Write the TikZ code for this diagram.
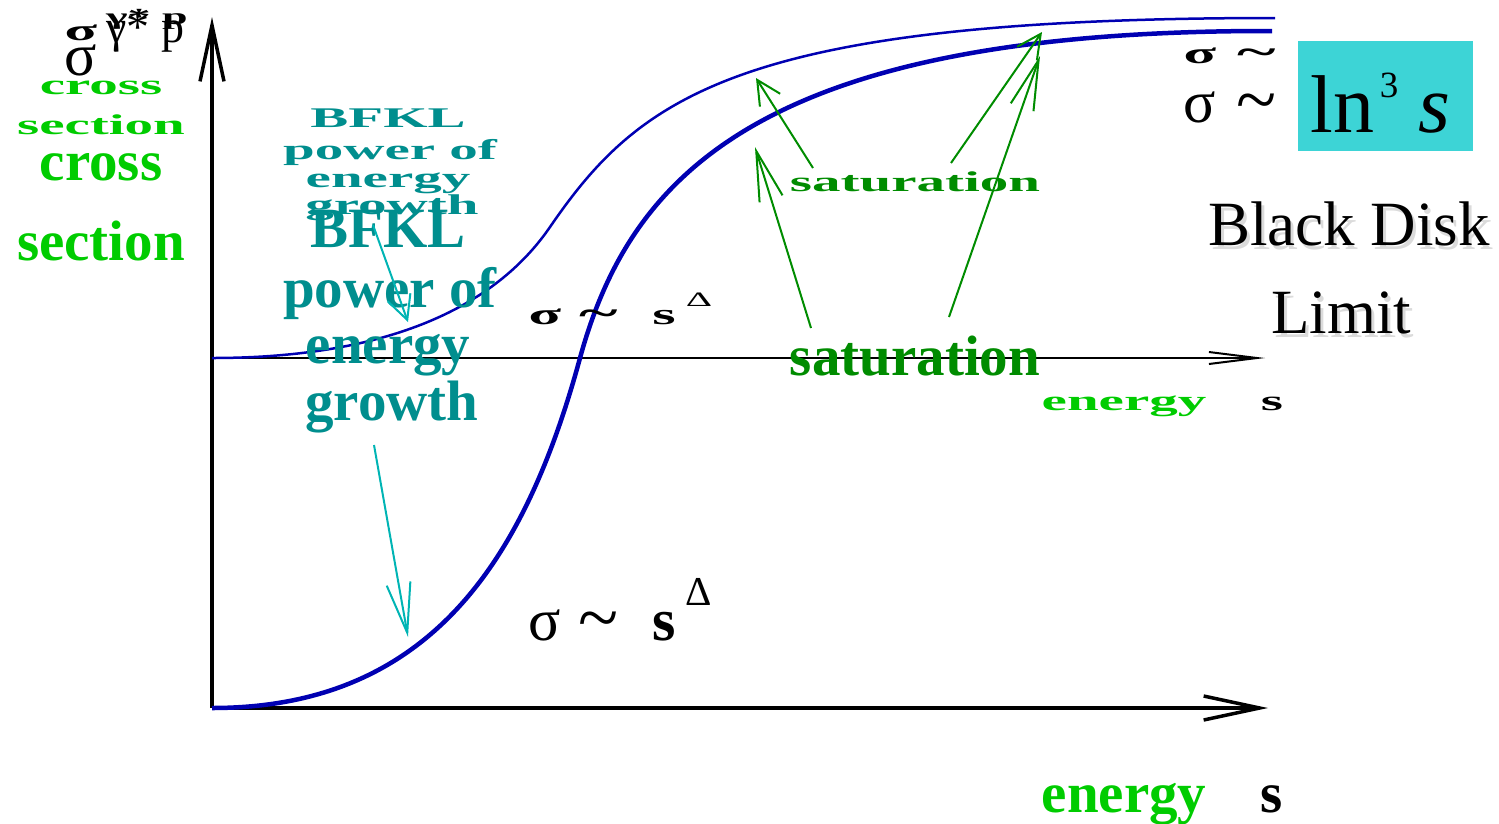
\documentclass[tikz,border=0pt]{standalone}
\usepackage{fontspec}
\setmainfont{Liberation Serif}
\usetikzlibrary{arrows.meta}
\definecolor{curveblue}{RGB}{0,0,178}
\definecolor{tealtext}{RGB}{0,142,142}
\definecolor{tealarrow}{RGB}{0,180,180}
\definecolor{brightgreen}{RGB}{0,204,0}
\definecolor{darkgreen}{RGB}{0,140,0}
\definecolor{cyanbox}{RGB}{61,212,214}
\begin{document}
\begin{tikzpicture}[x=1pt,y=-1pt,
  lbl/.style={anchor=base,inner sep=0pt},
  lblw/.style={anchor=base west,inner sep=0pt},
  bigbold/.style={font=\fontsize{57}{57}\selectfont\bfseries},
  bigreg/.style={font=\fontsize{60}{60}\selectfont},
  bigboldsig/.style={font=\fontsize{60}{60}\selectfont\bfseries},
  tildereg/.style={font=\fontsize{74}{74}\selectfont},
  tildebold/.style={font=\fontsize{74}{74}\selectfont\bfseries},
  suptxt/.style={font=\fontsize{41}{41}\selectfont},
  diskfont/.style={font=\fontsize{63}{63}\selectfont},
  axisbig/.style={line width=3.5pt,-{Straight Barb[length=56pt,width=24pt]}},
  axissmall/.style={line width=2pt,-{Straight Barb[length=48pt,width=12pt]}},
  barbbig/.style={line width=2pt,-{Straight Barb[length=50pt,width=24pt]}},
  barbsmall/.style={line width=2pt,-{Straight Barb[length=24pt,width=24pt]}},
  greenarrow/.style={darkgreen},
  tealarr/.style={tealarrow},
  lnbox/.style={fill=cyanbox,minimum width=175pt,minimum height=110pt,inner sep=0pt}
]
\useasboundingbox (0,0) rectangle (1499,823);

% axes
\coordinate (origin) at (212,708);
\coordinate (ytop) at (212,17);
\coordinate (xend) at (1268,708);
\coordinate (sorigin) at (212,358);
\coordinate (sxend) at (1265,358);
\draw[axisbig] (origin) -- (ytop);
\draw[axisbig] (origin) -- (xend);
\draw[axissmall] (sorigin) -- (sxend);

% curves
\draw[curveblue,line width=2.5pt] (212,358) .. controls (400,358) and (500,300) .. (550,227)
   .. controls (640,96) and (740,18) .. (1275,18);
\draw[curveblue,line width=4.5pt] (212,708) .. controls (430,708) and (525,560) .. (580,358)
   .. controls (630,176) and (760,30) .. (1272,31);

% ---------- large labels ----------
\node[lbl,bigreg] (sigtl) at (81,75) {σ};
\node[lblw,font=\fontsize{46}{46}\selectfont] (gptl) at (106,42) {γ* p};
\node[lbl,bigbold,text=brightgreen] (cross) at (101,180) {cross};
\node[lbl,bigbold,text=brightgreen] (section) at (101,260) {section};
\node[lbl,bigbold,text=tealtext] (bfkl1) at (388,247) {BFKL};
\node[lbl,bigbold,text=tealtext] (bfkl2) at (390,307) {power of};
\node[lbl,bigbold,text=tealtext] (bfkl3) at (388,363) {energy};
\node[lbl,bigbold,text=tealtext] (bfkl4) at (392,420) {growth};
\node[lbl,bigbold,text=darkgreen] (sat) at (915,375) {saturation};
\node[lbl,bigbold,text=brightgreen] (energy) at (1124,812) {energy};
\node[lbl,bigbold] (esym) at (1272,812) {s};
\node[lbl,bigreg] (sigA) at (545,640) {σ};
\node[lbl,tildereg] (tilA) at (599,642) {\textasciitilde};
\node[lbl,bigboldsig] (sA) at (664,640) {s};
\node[lbl,suptxt] (dA) at (699,605) {Δ};
\node[lbl,bigreg] (sigB) at (1200,122) {σ};
\node[lbl,tildereg] (tilB) at (1257,124) {\textasciitilde};
\node[lnbox] (box) at (1385.5,96) {};
\node[lblw,font=\fontsize{82}{82}\selectfont] (ln3s) at (1310,132) {ln\hspace{6pt}\raisebox{35pt}{\fontsize{37}{37}\selectfont 3}\hspace{20pt}\textit{s}};
\node[lbl,diskfont,text=black!14] (bdsh1) at (1352,249) {Black Disk};
\node[lbl,diskfont,text=black!14] (bdsh2) at (1344,337) {Limit};
\node[lbl,diskfont] (bd1) at (1349,245) {Black Disk};
\node[lbl,diskfont] (bd2) at (1341,333) {Limit};

% large arrows
\coordinate (satL) at (811,328);
\coordinate (satLt) at (755,147);
\coordinate (satR) at (949,317);
\coordinate (satRt) at (1040,56);
\coordinate (bfA) at (374,445);
\coordinate (bfAt) at (408,637);
\draw[barbbig,greenarrow] (satL) -- (satLt);
\draw[barbbig,greenarrow] (satR) -- (satRt);
\draw[barbbig,tealarr] (bfA) -- (bfAt);

% ---------- squashed copy ----------
\begin{scope}[yshift=-4pt,yscale=0.5,transform shape]
\node[lbl,bigboldsig] (ssigtl) at (81,72) {σ};
\node[lblw,font=\fontsize{46}{46}\selectfont\bfseries] (sgptl) at (106,40) {γ* p};
\node[lbl,bigbold,text=brightgreen] (scross) at (101,180) {cross};
\node[lbl,bigbold,text=brightgreen] (ssection) at (101,260) {section};
\node[lbl,bigbold,text=tealtext] (sbfkl1) at (388,247) {BFKL};
\node[lbl,bigbold,text=tealtext] (sbfkl2) at (390,310) {power of};
\node[lbl,bigbold,text=tealtext] (sbfkl3) at (388,366) {energy};
\node[lbl,bigbold,text=tealtext] (sbfkl4) at (392,420) {growth};
\node[lbl,bigbold,text=darkgreen] (ssat) at (915,375) {saturation};
\node[lbl,bigbold,text=brightgreen] (senergy) at (1124,812) {energy};
\node[lbl,bigbold] (sesym) at (1272,812) {s};
\node[lbl,bigboldsig] (ssigA) at (545,640) {σ};
\node[lbl,tildebold] (stilA) at (599,642) {\textasciitilde};
\node[lbl,bigboldsig] (ssA) at (664,640) {s};
\node[lbl,suptxt] (sdA) at (699,605) {Δ};
\node[lbl,bigboldsig] (ssigB) at (1200,118) {σ};
\node[lbl,tildebold] (stilB) at (1257,120) {\textasciitilde};
\coordinate (ssatL) at (813,328);
\coordinate (ssatLt) at (756,148);
\coordinate (ssatR) at (951,318);
\coordinate (ssatRt) at (1042,56);
\coordinate (sbfA) at (373,442);
\coordinate (sbfAt) at (408,636);
\draw[barbsmall,greenarrow] (ssatL) -- (ssatLt);
\draw[barbsmall,greenarrow] (ssatR) -- (ssatRt);
\draw[barbsmall,tealarr] (sbfA) -- (sbfAt);
\end{scope}
\end{tikzpicture}
\end{document}
